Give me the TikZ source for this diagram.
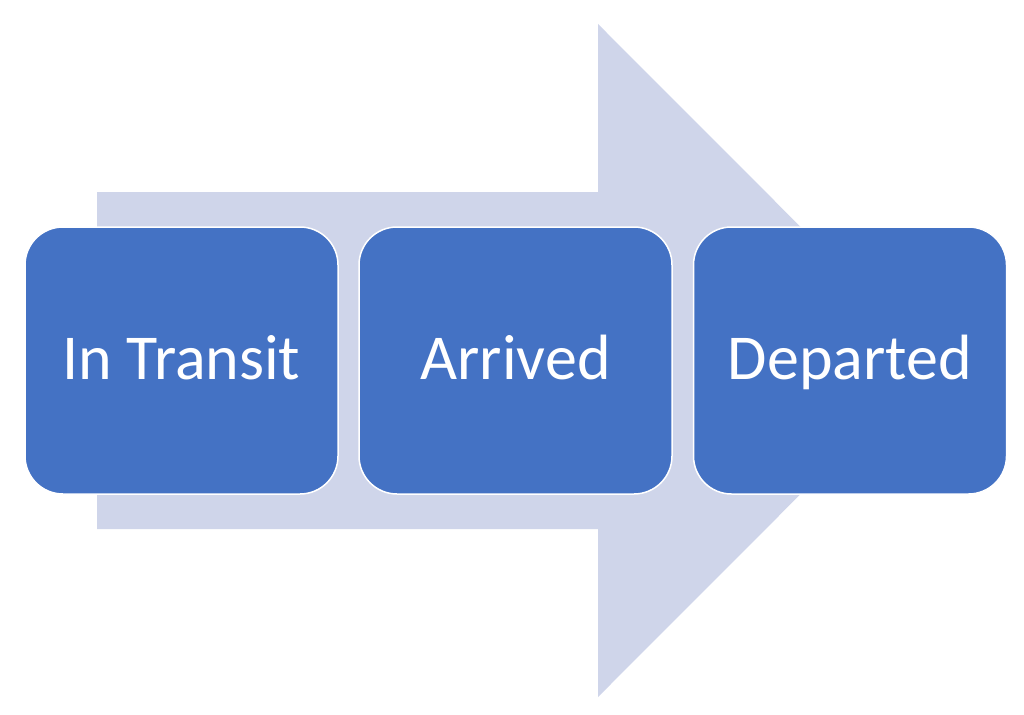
\documentclass[tikz,border=0pt]{standalone}
\usepackage{fontspec}
\setmainfont{Carlito}
\definecolor{boxblue}{HTML}{4472C4}
\definecolor{arrowblue}{HTML}{CFD5EA}
\begin{document}
\begin{tikzpicture}[x=1pt,y=-1pt,
  stage/.style={draw=white,line width=1.5pt,fill=boxblue,rounded corners=38pt,
    minimum width=313pt,minimum height=267pt,inner sep=0pt,
    text height=44pt,text depth=7pt,
    text=white,font=\fontsize{64}{70}\selectfont},
]
\useasboundingbox (0,0) rectangle (1024,714);
\fill[arrowblue] (97,192) -- (598,192) -- (598,24) -- (934,360.5) -- (598,697) -- (598,529) -- (97,529) -- cycle;
\node[stage] (a) at (181.5,360.5) {In Transit};
\node[stage] (b) at (515.5,360.5) {Arrived};
\node[stage] (c) at (850,360.5) {Departed};
\end{tikzpicture}
\end{document}
